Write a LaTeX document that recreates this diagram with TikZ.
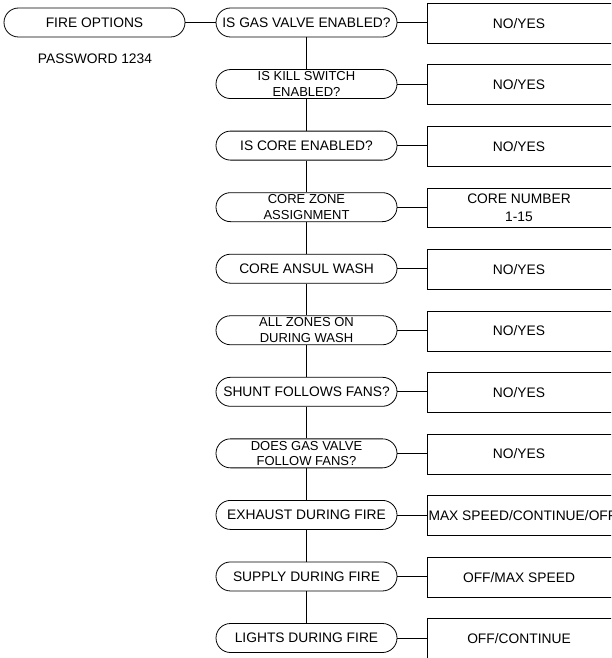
\documentclass[tikz,border=0pt]{standalone}
\usepackage{fontspec}
\setmainfont{Liberation Sans}
\begin{document}
\begin{tikzpicture}[x=1pt,y=-1pt,
  pill/.style={draw, line width=0.8pt, rounded corners=14.5pt, minimum width=181pt, minimum height=29pt, inner sep=0pt, align=center, font=\fontsize{13.8}{14.3}\selectfont},
  twoline/.style={font=\fontsize{13}{15.5}\selectfont},
  ans/.style={minimum width=182pt, minimum height=39.5pt, inner sep=0pt, align=center, font=\fontsize{13.8}{17.5}\selectfont},
  link/.style={line width=0.8pt},
  plain/.style={inner sep=0pt, font=\fontsize{13.8}{14.3}\selectfont}]
\useasboundingbox (0,0) rectangle (611,658);
\clip (0,0) rectangle (611,658);

\node[pill] (fire) at (94.5,22.5) {FIRE OPTIONS};
\node[plain] (pw) at (95,59) {PASSWORD 1234};

\node[pill] (q1) at (306.5,22.5) {IS GAS VALVE ENABLED?};
\node[pill,twoline] (q2) at (306.5,84.05) {IS KILL SWITCH\\ENABLED?};
\node[pill] (q3) at (306.5,145.6) {IS CORE ENABLED?};
\node[pill,twoline] (q4) at (306.5,207.15) {CORE ZONE\\ASSIGNMENT};
\node[pill] (q5) at (306.5,268.7) {CORE ANSUL WASH};
\node[pill,twoline] (q6) at (306.5,330.25) {ALL ZONES ON\\DURING WASH};
\node[pill] (q7) at (306.5,391.8) {SHUNT FOLLOWS FANS?};
\node[pill,twoline] (q8) at (306.5,453.35) {DOES GAS VALVE\\FOLLOW FANS?};
\node[pill] (q9) at (306.5,514.9) {EXHAUST DURING FIRE};
\node[pill] (q10) at (306.5,576.45) {SUPPLY DURING FIRE};
\node[pill] (q11) at (306.5,638) {LIGHTS DURING FIRE};

\node[ans] (a1) at (519,23.2) {NO/YES};
\node[ans] (a2) at (519,84.75) {NO/YES};
\node[ans] (a3) at (519,146.3) {NO/YES};
\node[ans] (a4) at (519,207.85) {CORE NUMBER\\1-15};
\node[ans] (a5) at (519,269.4) {NO/YES};
\node[ans] (a6) at (519,330.95) {NO/YES};
\node[ans] (a7) at (519,392.5) {NO/YES};
\node[ans] (a8) at (519,454.05) {NO/YES};
\node[ans] (a9) at (519,515.6) {\makebox[182pt][l]{\hspace*{0.5pt}MAX SPEED/CONTINUE/OFF}};
\node[ans] (a10) at (519,577.15) {OFF/MAX SPEED};
\node[ans] (a11) at (519,638.7) {OFF/CONTINUE};

\foreach \i in {1,...,11} {
  \draw[link] ([xshift=20pt]a\i.north east) -- (a\i.north west) -- (a\i.south west) -- ([xshift=20pt]a\i.south east);
  \draw[link] (q\i.east) -- (q\i.east -| a\i.west);
}
\foreach \i/\j in {1/2,2/3,3/4,4/5,5/6,6/7,7/8,8/9,9/10,10/11} {
  \draw[link] (q\i.south) -- (q\j.north);
}
\draw[link] (fire.east) -- (q1.west);
\end{tikzpicture}
\end{document}
